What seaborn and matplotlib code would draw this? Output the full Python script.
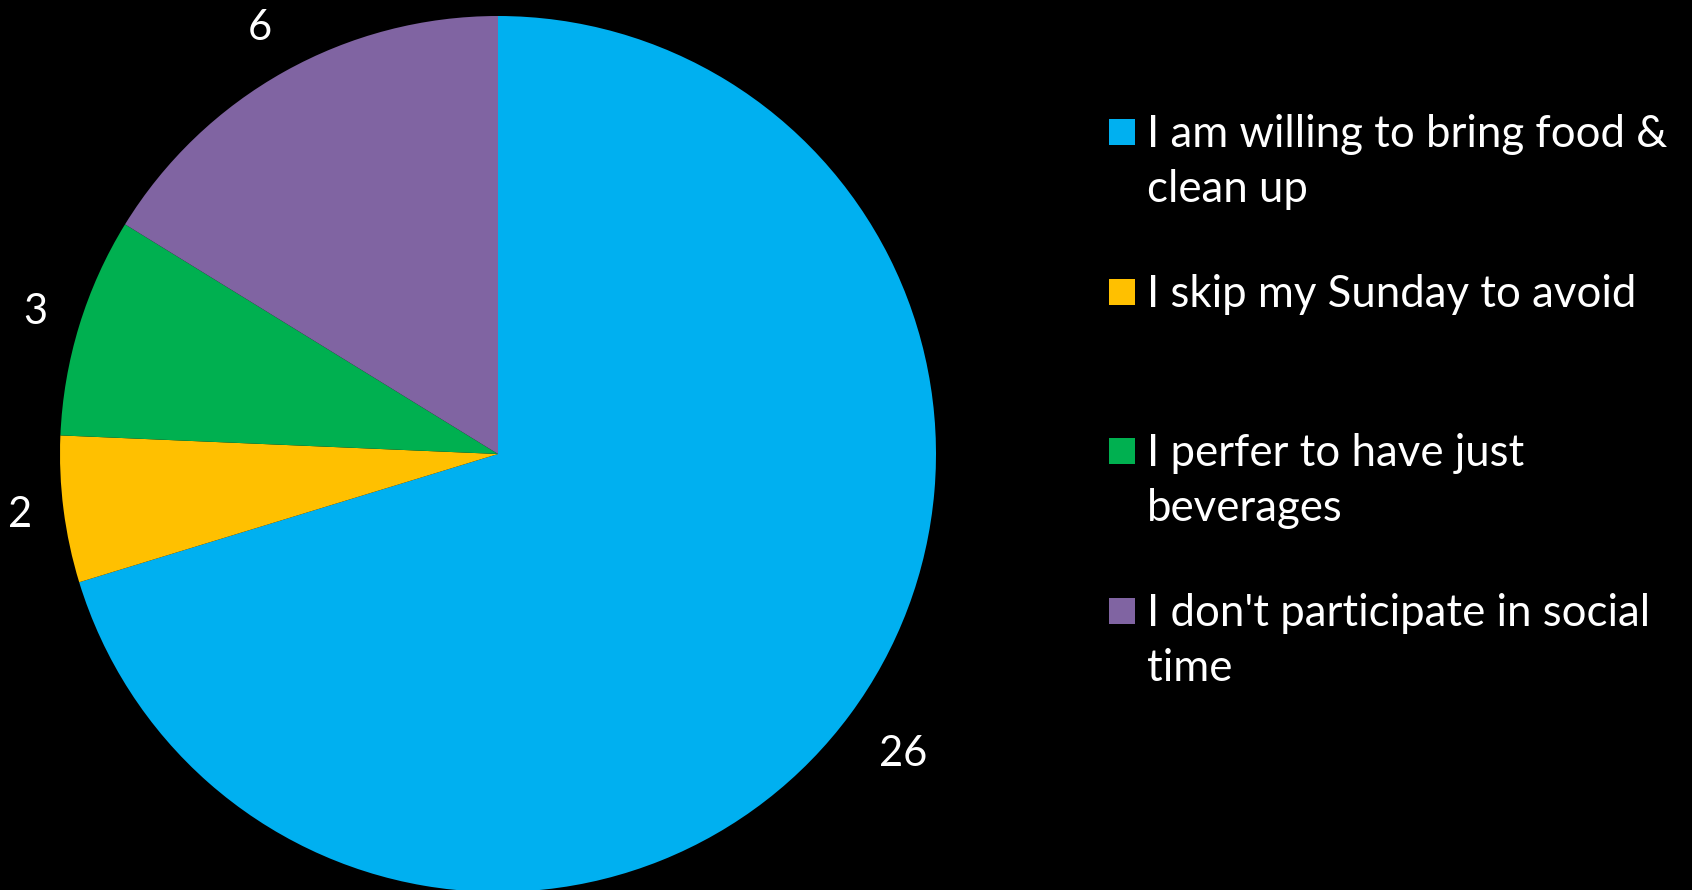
import numpy as np
import matplotlib.pyplot as plt
from matplotlib.patches import Rectangle
import seaborn as sns

# survey answers and counts
answers = [
    "I am willing to bring food &\nclean up",
    "I skip my Sunday to avoid",
    "I perfer to have just\nbeverages",
    "I don't participate in social\ntime",
]
counts = [26, 2, 3, 6]
colors = ["#00B0F0", "#FFC000", "#00B050", "#8064A2"]

sns.set_theme(style="dark")
plt.rcParams["font.family"] = ["Lato", "DejaVu Sans"]

W, H = 1692, 890
fig = plt.figure(figsize=(W / 100, H / 100), dpi=100, facecolor="black")

# pie centre (498, 454 from top), radius 438 px
r = 438
cx, cy = 498, H - 454
ax = fig.add_axes([(cx - r) / W, (cy - r) / H, 2 * r / W, 2 * r / H])
ax.set_facecolor("black")

wedges, texts = ax.pie(
    counts,
    labels=[str(c) for c in counts],
    colors=sns.color_palette(colors),
    startangle=90,
    counterclock=False,
    textprops={"color": "white", "fontsize": 30},
    wedgeprops={"linewidth": 0},
)
# label distance from centre differs a little per slice in the original
label_dist = [1.15, 1.10, 1.105, 1.115]
for w, t, d in zip(wedges, texts, label_dist):
    ang = np.deg2rad((w.theta1 + w.theta2) / 2)
    t.set_position((d * np.cos(ang), d * np.sin(ang)))
    t.set_ha("center")
    t.set_va("center")
ax.set_xlim(-1, 1)
ax.set_ylim(-1, 1)
ax.set_aspect("equal")
ax.axis("off")

# legend drawn by hand: square marker next to the first line of each entry
mx, msize, tx = 1109, 26, 1147
base0, step, line_h = 147, 159.7, 55
for i, (w, lab) in enumerate(zip(wedges, answers)):
    base = base0 + i * step
    fig.add_artist(Rectangle(
        (mx / W, 1 - (base - 15 + msize / 2) / H), msize / W, msize / H,
        transform=fig.transFigure, facecolor=w.get_facecolor(), edgecolor="none"))
    for j, line in enumerate(lab.split("\n")):
        fig.text(tx / W, 1 - (base + j * line_h) / H, line, color="white",
                 fontsize=31.5, ha="left", va="baseline")

fig.savefig("out.png", dpi=100, facecolor="black")
